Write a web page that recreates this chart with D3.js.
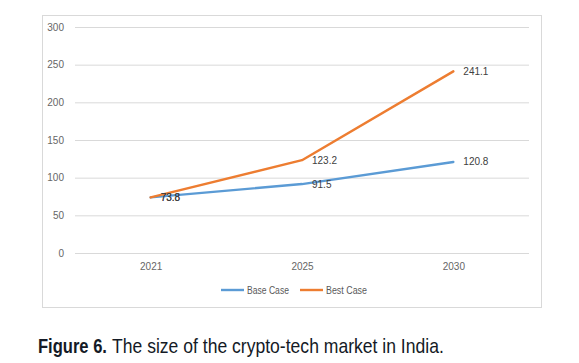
<!DOCTYPE html>
<html>
<head>
<meta charset="utf-8">
<script src="https://cdn.jsdelivr.net/npm/d3@7"></script>
<style>
  body { margin: 0; background: #fff; }
  svg { display: block; }
</style>
</head>
<body>
<div id="chart"></div>
<script>
// data
const years = ["2021", "2025", "2030"];
const baseCase = [73.8, 91.5, 120.8];
const bestCase = [73.8, 123.2, 241.1];
const yTicks = [0, 50, 100, 150, 200, 250, 300];
const seriesNames = ["Base Case", "Best Case"];
const seriesColors = ["#5b9bd5", "#ed7d31"];

const W = 579, H = 363;
const margin = {top: 27, right: 50, bottom: 110, left: 75};
const width = 529 - margin.left, height = 253 - margin.top;
const labelFont = "'Liberation Sans', sans-serif";

const svg = d3.select("#chart").append("svg")
    .attr("width", W)
    .attr("height", H);

// chart area frame
svg.append("rect")
    .attr("x", 42.5).attr("y", 15.5)
    .attr("width", 499).attr("height", 292)
    .attr("fill", "#fff")
    .attr("stroke", "#d9d9d9");

const g = svg.append("g").attr("transform", "translate(" + margin.left + "," + margin.top + ")");

const xScale = d3.scalePoint()
    .domain(years)
    .range([0, width])
    .padding(0.5);

const yScale = d3.scaleLinear()
    .domain([0, 300])
    .range([height, 0]);

// y axis with gridlines
const yAxis = g.append("g")
    .call(d3.axisLeft(yScale).tickValues(yTicks).tickSize(-width).tickPadding(11));
yAxis.select(".domain").remove();
yAxis.selectAll(".tick line").attr("stroke", "#d9d9d9");
yAxis.selectAll(".tick text")
    .attr("fill", "#666")
    .style("font-family", labelFont)
    .style("font-size", "10px");

// x axis
const xAxis = g.append("g")
    .attr("transform", "translate(0," + height + ")")
    .call(d3.axisBottom(xScale).tickSize(0).tickPadding(10));
xAxis.select(".domain").remove();
xAxis.selectAll(".tick text")
    .attr("fill", "#666")
    .style("font-family", labelFont)
    .style("font-size", "10px");

const line = d3.line()
    .x((d, i) => xScale(years[i]))
    .y(d => yScale(d));

[baseCase, bestCase].forEach(function (values, s) {
    g.append("path")
        .datum(values)
        .attr("fill", "none")
        .attr("stroke", seriesColors[s])
        .attr("stroke-width", 2.4)
        .attr("stroke-linejoin", "round")
        .attr("stroke-linecap", "round")
        .attr("d", line);
});

// data labels, right of each point
[baseCase, bestCase].forEach(function (values) {
    g.selectAll(null)
        .data(values)
        .enter().append("text")
        .attr("x", (d, i) => xScale(years[i]) + 10)
        .attr("y", d => yScale(d))
        .attr("dy", "0.35em")
        .attr("fill", "#404040")
        .style("font-family", labelFont)
        .style("font-size", "10px")
        .text(d => d.toFixed(1));
});

// narrow a text to a target width (the original uses condensed fonts)
function squeeze(sel, x, y, target) {
    const natural = sel.node().getComputedTextLength();
    sel.attr("transform", "translate(" + x + "," + y + ") scale(" + (target / natural) + ",1)");
}

// legend
const legend = svg.append("g").attr("transform", "translate(221,290)");
const legendX = [0, 79];
seriesNames.forEach(function (name, s) {
    const item = legend.append("g").attr("transform", "translate(" + legendX[s] + ",0)");
    item.append("line")
        .attr("x1", 0).attr("x2", 23)
        .attr("stroke", seriesColors[s])
        .attr("stroke-width", 2.4);
    const t = item.append("text")
        .attr("dy", "0.35em")
        .attr("fill", "#595959")
        .style("font-family", labelFont)
        .style("font-size", "10.5px")
        .text(name);
    squeeze(t, 26, 0, s === 0 ? 42 : 41);
});

// caption, bold figure number then the title
const capNum = svg.append("text")
    .attr("fill", "#141a26")
    .style("font-family", labelFont)
    .style("font-size", "20px")
    .style("font-weight", "bold")
    .text("Figure 6.");
squeeze(capNum, 38, 353, 69);
const capText = svg.append("text")
    .attr("fill", "#141a26")
    .style("font-family", labelFont)
    .style("font-size", "20px")
    .text("The size of the crypto-tech market in India.");
squeeze(capText, 112, 353, 332);
</script>
</body>
</html>
